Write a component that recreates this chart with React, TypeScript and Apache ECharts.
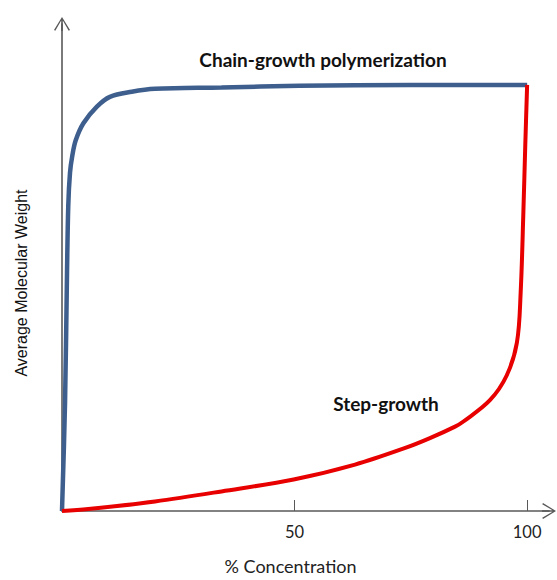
import React, { useEffect, useRef } from "react";
import * as echarts from "echarts";

// Chain-growth polymerization curve (% concentration, average molecular weight)
const chainX = [0, 0.65, 1.08, 1.35, 1.72, 2.2, 2.95, 4.6, 7.5, 10.3, 15, 20, 34.3, 51, 75, 100];
const chainY = [0, 25.3, 56.1, 71.7, 79.4, 83.3, 87, 91, 94.9, 97.2, 98.4, 99.1, 99.4, 99.8, 100, 100];

// Step-growth curve
const stepX = [0, 5.65, 20, 34.3, 49.8, 63, 73.8, 79.1, 84.5, 86.3, 92, 95.6, 97.8, 98.6, 99.2, 99.6, 100];
const stepY = [0, 0.46, 2.25, 4.6, 7.4, 10.9, 14.8, 17.1, 19.8, 21, 26, 31.8, 39.5, 51.1, 70.5, 85.9, 100];

const xTicks = [50, 100];
const chainLabel = "Chain-growth polymerization";
const stepLabel = "Step-growth";
const xName = "% Concentration";
const yName = "Average Molecular Weight";

const ARROW = "path://M8,0 L16,13 L14.7,13.8 L8.8,3.5 L8.8,14 L7.2,14 L7.2,3.5 L1.3,13.8 L0,13 Z";
const AXIS_COLOR = "#595959";
const CAL = "Lato";

export default function App() {
  const ref = useRef<HTMLDivElement>(null);
  useEffect(() => {
    document.body.style.margin = "0";
    const chart = echarts.init(ref.current!, null, { renderer: "svg" });
    const zip = (xs: number[], ys: number[]) => xs.map((x, i) => [x, ys[i]]);
    chart.setOption({
      animation: false,
      backgroundColor: "#ffffff",
      grid: { left: 62, right: 8, top: 24, bottom: 63 },
      xAxis: {
        type: "value",
        min: 0,
        max: 104.7,
        interval: 50,
        name: xName,
        nameLocation: "middle",
        nameGap: 46,
        nameTextStyle: { fontFamily: CAL, fontSize: 18, color: "#222", padding: [0, 30, 0, 0] },
        splitLine: { show: false },
        axisLine: {
          show: true,
          symbol: ["none", ARROW],
          symbolSize: [16, 14],
          lineStyle: { color: AXIS_COLOR, width: 1.6 },
        },
        axisTick: { show: true, inside: true, length: 11, customValues: xTicks, lineStyle: { color: AXIS_COLOR, width: 1 } },
        axisLabel: { customValues: xTicks, margin: 12, fontFamily: CAL, fontSize: 16.5, color: "#222" },
      },
      yAxis: {
        type: "value",
        min: 0,
        max: 114.3,
        splitLine: { show: false },
        axisLine: {
          show: true,
          symbol: ["none", ARROW],
          symbolSize: [16, 14],
          lineStyle: { color: AXIS_COLOR, width: 1.6 },
        },
        axisTick: { show: false },
        axisLabel: { show: false },
      },
      series: [
        {
          type: "line",
          name: "Chain-growth",
          data: zip(chainX, chainY),
          showSymbol: false,
          smooth: 0.35,
          lineStyle: { color: "#3E5F8E", width: 4.5 },
          itemStyle: { color: "#3E5F8E" },
          z: 2,
        },
        {
          type: "line",
          name: "Step-growth",
          data: zip(stepX, stepY),
          showSymbol: false,
          smooth: 0.35,
          lineStyle: { color: "#E80000", width: 4 },
          itemStyle: { color: "#E80000" },
          z: 3,
        },
      ],
      graphic: [
        {
          type: "text",
          x: 21,
          y: 283,
          rotation: Math.PI / 2,
          style: { text: yName, font: "16px 'Liberation Sans'", fill: "#111", align: "center", verticalAlign: "middle" },
        },
        {
          type: "text",
          x: 323,
          y: 59,
          style: { text: chainLabel, font: "bold 19px Lato", fill: "#111", align: "center", verticalAlign: "middle" },
        },
        {
          type: "text",
          x: 386,
          y: 403,
          style: { text: stepLabel, font: "bold 19px Lato", fill: "#111", align: "center", verticalAlign: "middle" },
        },
      ],
    });
    return () => chart.dispose();
  }, []);
  return <div ref={ref} style={{ position: "fixed", left: 0, top: 0, width: 557, height: 580 }} />;
}
